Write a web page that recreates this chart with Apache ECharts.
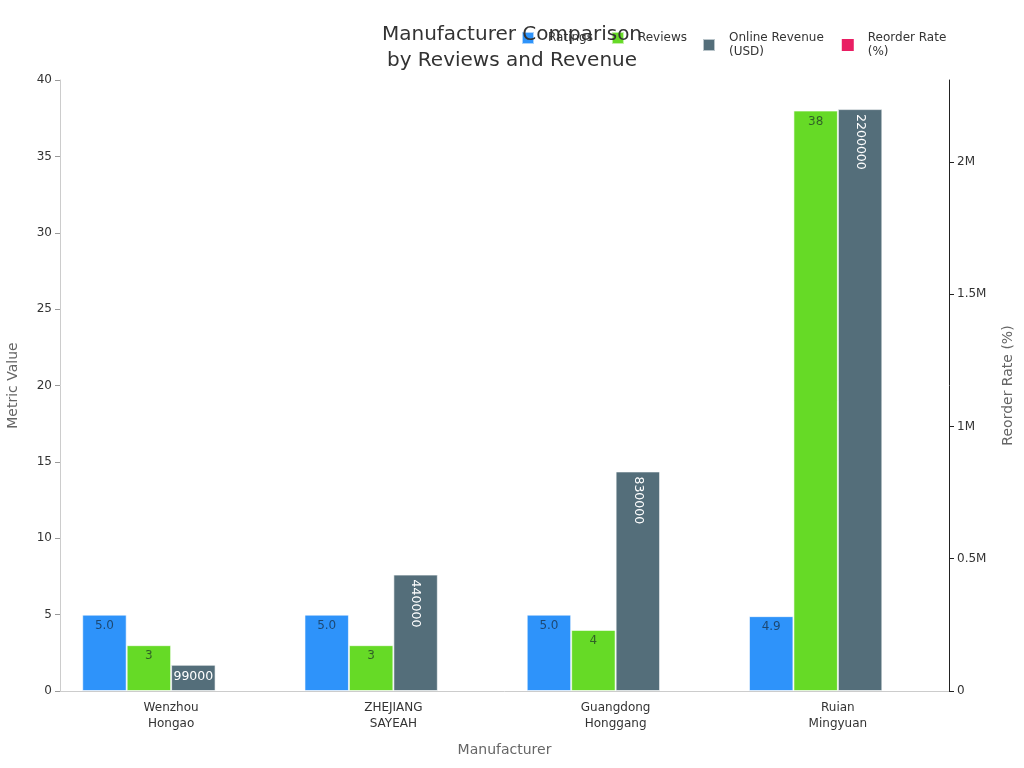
<!DOCTYPE html>
<html>
<head>
<meta charset="utf-8">
<script src="https://cdn.jsdelivr.net/npm/echarts@6/dist/echarts.min.js"></script>
<style>html,body{margin:0;padding:0;background:#fff}#c{width:1024px;height:768px}</style>
</head>
<body>
<div id="c"></div>
<script>
var categories = ['Wenzhou\nHongao', 'ZHEJIANG\nSAYEAH', 'Guangdong\nHonggang', 'Ruian\nMingyuan'];
var ratings = [5.0, 5.0, 5.0, 4.9];
var reviews = [3, 3, 4, 38];
var revenue = [99000, 440000, 830000, 2200000];
var reorderRate = [null, null, null, null];
var leftTicks = { min: 0, max: 40, interval: 5 };
var rightTicks = { min: 0, max: 2310000, interval: 500000 };

var font = 'DejaVu Sans';
var chart = echarts.init(document.getElementById('c'));
var labelDark = 'rgba(20,30,40,0.65)';
var legendText = { fontFamily: font, fontSize: 12, color: '#333', lineHeight: 14, padding: [0, 0, 0, 9] };

chart.setOption({
  animation: false,
  textStyle: { fontFamily: font },
  title: {
    text: 'Manufacturer Comparison\nby Reviews and Revenue',
    left: 'center', top: 17,
    textStyle: { fontFamily: font, fontSize: 20, fontWeight: 'normal', color: '#333', lineHeight: 26 }
  },
  legend: [{
    left: 516, top: 26, itemWidth: 12, itemHeight: 12, itemGap: 18, icon: 'rect',
    textStyle: legendText,
    data: ['Ratings', 'Reviews']
  }, {
    left: 697, top: 26, itemWidth: 12, itemHeight: 12, itemGap: 18, icon: 'rect',
    textStyle: legendText,
    data: ['Online Revenue\n(USD)', 'Reorder Rate\n(%)']
  }],
  grid: { left: 60, right: 75, top: 80, bottom: 77, containLabel: false, outerBoundsMode: 'none' },
  xAxis: {
    type: 'category', data: categories,
    name: 'Manufacturer', nameLocation: 'middle', nameGap: 52,
    nameTextStyle: { fontFamily: font, fontSize: 14, color: '#666' },
    axisLine: { lineStyle: { color: '#ccc' } },
    axisTick: { alignWithLabel: true, lineStyle: { color: '#999' } },
    axisLabel: { fontFamily: font, fontSize: 12, color: '#333', lineHeight: 16, margin: 9 }
  },
  yAxis: [{
    type: 'value', min: leftTicks.min, max: leftTicks.max, interval: leftTicks.interval,
    name: 'Metric Value', nameLocation: 'middle', nameGap: 40,
    nameTextStyle: { fontFamily: font, fontSize: 14, color: '#666' },
    axisLine: { show: true, lineStyle: { color: '#ccc' } },
    axisTick: { show: true, lineStyle: { color: '#999' } },
    axisLabel: { fontFamily: font, fontSize: 12, color: '#333' },
    splitLine: { show: false }
  }, {
    type: 'value', min: rightTicks.min, max: rightTicks.max, interval: rightTicks.interval,
    name: 'Reorder Rate (%)', nameLocation: 'middle', nameGap: 52,
    nameTextStyle: { fontFamily: font, fontSize: 14, color: '#666' },
    axisLine: { show: true, lineStyle: { color: '#222' } },
    axisTick: { show: true, lineStyle: { color: '#222' } },
    axisLabel: { fontFamily: font, fontSize: 12, color: '#333', showMaxLabel: false,
      formatter: function (v) { return v === 0 ? '0' : (v / 1e6) + 'M'; } },
    splitLine: { show: false }
  }],
  series: [{
    name: 'Ratings', type: 'bar', data: ratings, barGap: 0, barCategoryGap: '20%',
    itemStyle: { color: '#2E93FA', borderColor: 'rgba(255,255,255,0.6)', borderWidth: 1 },
    label: { show: true, position: 'insideTop', fontSize: 12, color: labelDark,
      formatter: function (p) { return p.value.toFixed(1); } }
  }, {
    name: 'Reviews', type: 'bar', data: reviews,
    itemStyle: { color: '#66DA26', borderColor: 'rgba(255,255,255,0.6)', borderWidth: 1 },
    label: { show: true, position: 'insideTop', fontSize: 12, color: labelDark }
  }, {
    name: 'Online Revenue\n(USD)', type: 'bar', yAxisIndex: 1,
    data: revenue.map(function (v) {
      return v < 200000 ? { value: v, label: { rotate: 0, align: 'center', verticalAlign: 'top' } } : v;
    }),
    itemStyle: { color: '#546E7A', borderColor: 'rgba(255,255,255,0.6)', borderWidth: 1 },
    label: { show: true, position: 'insideTop', rotate: -90, align: 'left', verticalAlign: 'middle',
      fontSize: 12.5, color: '#fff' }
  }, {
    name: 'Reorder Rate\n(%)', type: 'bar', yAxisIndex: 1, data: reorderRate,
    itemStyle: { color: '#E91E63' }
  }]
});
</script>
</body>
</html>
